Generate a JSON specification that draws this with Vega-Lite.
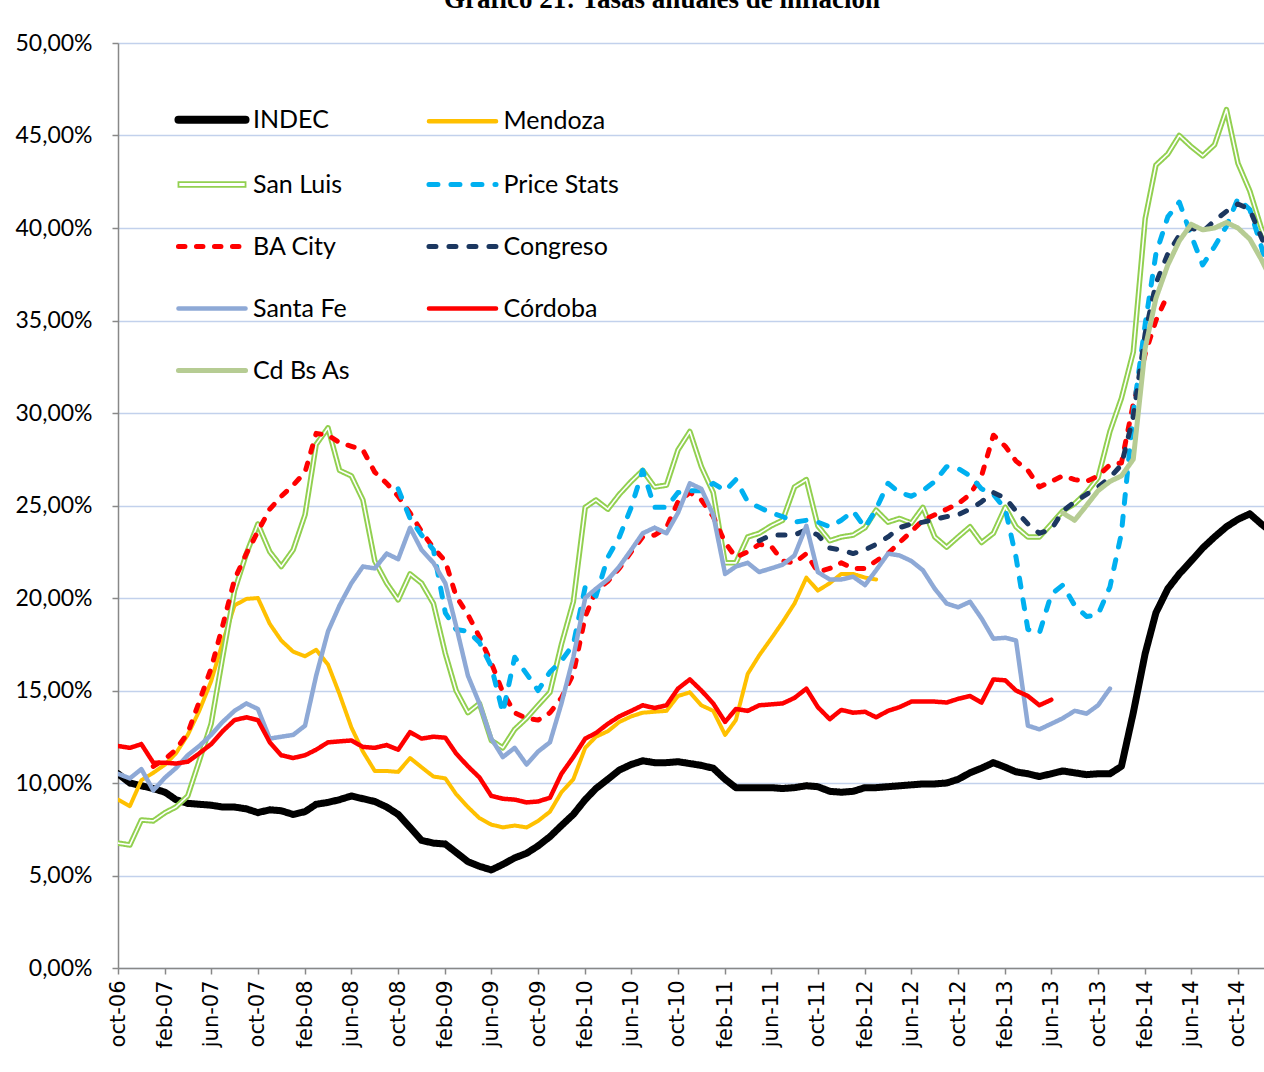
{
  "$schema": "https://vega.github.io/schema/vega-lite/v6.json",
  "autosize": {"type": "none"},
  "padding": {"left": 118, "top": 43, "right": 0, "bottom": 104},
  "width": 1146,
  "height": 925,
  "background": "white",
  "title": {"text": "Gráfico 21: Tasas anuales de inflación", "font": "Liberation Serif", "fontSize": 27, "fontWeight": "bold", "color": "#000000", "anchor": "middle", "frame": "group", "offset": 18, "dx": -29},
  "config": {"view": {"stroke": null}},
  "data": {"values": [
    {"d":"2006-10-01","INDEC":10.5,"Mendoza":9.1,"San Luis":6.75,"Santa Fe":10.5,"Córdoba":12.0},
    {"d":"2006-11-01","INDEC":10.0,"Mendoza":8.75,"San Luis":6.65,"Santa Fe":10.25,"Córdoba":11.9},
    {"d":"2006-12-01","INDEC":9.85,"Mendoza":10.15,"San Luis":8.0,"Santa Fe":10.75,"Córdoba":12.1},
    {"d":"2007-01-01","INDEC":9.7,"Mendoza":10.55,"San Luis":7.95,"BA City":10.9,"Santa Fe":9.6,"Córdoba":11.1},
    {"d":"2007-02-01","INDEC":9.5,"Mendoza":11.0,"San Luis":8.4,"BA City":11.3,"Santa Fe":10.3,"Córdoba":11.1},
    {"d":"2007-03-01","INDEC":9.1,"Mendoza":11.6,"San Luis":8.7,"BA City":11.8,"Santa Fe":10.8,"Córdoba":11.05},
    {"d":"2007-04-01","INDEC":8.9,"Mendoza":12.6,"San Luis":9.3,"BA City":12.7,"Santa Fe":11.5,"Córdoba":11.15},
    {"d":"2007-05-01","INDEC":8.85,"Mendoza":13.9,"San Luis":11.2,"BA City":14.4,"Santa Fe":12.0,"Córdoba":11.6},
    {"d":"2007-06-01","INDEC":8.8,"Mendoza":15.5,"San Luis":13.2,"BA City":16.2,"Santa Fe":12.6,"Córdoba":12.1},
    {"d":"2007-07-01","INDEC":8.7,"Mendoza":17.6,"San Luis":16.8,"BA City":18.5,"Santa Fe":13.3,"Córdoba":12.8},
    {"d":"2007-08-01","INDEC":8.7,"Mendoza":19.6,"San Luis":20.4,"BA City":21.0,"Santa Fe":13.9,"Córdoba":13.4},
    {"d":"2007-09-01","INDEC":8.6,"Mendoza":19.95,"San Luis":22.4,"BA City":22.4,"Santa Fe":14.3,"Córdoba":13.55},
    {"d":"2007-10-01","INDEC":8.4,"Mendoza":20.0,"San Luis":24.0,"BA City":23.6,"Santa Fe":14.0,"Córdoba":13.4},
    {"d":"2007-11-01","INDEC":8.55,"Mendoza":18.6,"San Luis":22.5,"BA City":24.8,"Santa Fe":12.4,"Córdoba":12.2},
    {"d":"2007-12-01","INDEC":8.5,"Mendoza":17.7,"San Luis":21.7,"BA City":25.5,"Santa Fe":12.5,"Córdoba":11.5},
    {"d":"2008-01-01","INDEC":8.3,"Mendoza":17.1,"San Luis":22.6,"BA City":26.1,"Santa Fe":12.6,"Córdoba":11.35},
    {"d":"2008-02-01","INDEC":8.45,"Mendoza":16.85,"San Luis":24.5,"BA City":26.8,"Santa Fe":13.1,"Córdoba":11.5},
    {"d":"2008-03-01","INDEC":8.85,"Mendoza":17.2,"San Luis":28.3,"BA City":28.9,"Santa Fe":15.8,"Córdoba":11.8},
    {"d":"2008-04-01","INDEC":8.95,"Mendoza":16.4,"San Luis":29.2,"BA City":28.8,"Santa Fe":18.2,"Córdoba":12.2},
    {"d":"2008-05-01","INDEC":9.1,"Mendoza":14.8,"San Luis":26.9,"BA City":28.4,"Santa Fe":19.6,"Córdoba":12.25},
    {"d":"2008-06-01","INDEC":9.3,"Mendoza":13.0,"San Luis":26.6,"BA City":28.2,"Santa Fe":20.8,"Córdoba":12.3},
    {"d":"2008-07-01","INDEC":9.15,"Mendoza":11.7,"San Luis":25.3,"BA City":28.0,"Santa Fe":21.7,"Córdoba":11.95},
    {"d":"2008-08-01","INDEC":9.0,"Mendoza":10.65,"San Luis":22.0,"BA City":26.8,"Santa Fe":21.6,"Córdoba":11.9},
    {"d":"2008-09-01","INDEC":8.7,"Mendoza":10.65,"San Luis":20.8,"BA City":26.2,"Santa Fe":22.4,"Córdoba":12.05},
    {"d":"2008-10-01","INDEC":8.3,"Mendoza":10.6,"San Luis":19.9,"Price Stats":25.9,"BA City":25.5,"Santa Fe":22.1,"Córdoba":11.8},
    {"d":"2008-11-01","INDEC":7.6,"Mendoza":11.35,"San Luis":21.3,"Price Stats":24.3,"BA City":24.6,"Santa Fe":23.8,"Córdoba":12.75},
    {"d":"2008-12-01","INDEC":6.9,"Mendoza":10.85,"San Luis":20.8,"Price Stats":23.4,"BA City":23.6,"Santa Fe":22.6,"Córdoba":12.4},
    {"d":"2009-01-01","INDEC":6.75,"Mendoza":10.35,"San Luis":19.7,"Price Stats":22.6,"BA City":22.7,"Santa Fe":21.9,"Córdoba":12.5},
    {"d":"2009-02-01","INDEC":6.7,"Mendoza":10.25,"San Luis":17.0,"Price Stats":19.2,"BA City":22.0,"Santa Fe":20.8,"Córdoba":12.45},
    {"d":"2009-03-01","INDEC":6.25,"Mendoza":9.4,"San Luis":15.0,"Price Stats":18.3,"BA City":20.1,"Santa Fe":18.5,"Córdoba":11.6},
    {"d":"2009-04-01","INDEC":5.75,"Mendoza":8.7,"San Luis":13.8,"Price Stats":18.2,"BA City":19.1,"Santa Fe":15.8,"Córdoba":10.9},
    {"d":"2009-05-01","INDEC":5.5,"Mendoza":8.1,"San Luis":14.3,"Price Stats":17.6,"BA City":17.9,"Santa Fe":14.3,"Córdoba":10.3},
    {"d":"2009-06-01","INDEC":5.3,"Mendoza":7.75,"San Luis":12.3,"Price Stats":16.3,"BA City":16.5,"Santa Fe":12.4,"Córdoba":9.3},
    {"d":"2009-07-01","INDEC":5.6,"Mendoza":7.6,"San Luis":11.9,"Price Stats":13.8,"BA City":14.9,"Santa Fe":11.4,"Córdoba":9.15},
    {"d":"2009-08-01","INDEC":5.95,"Mendoza":7.7,"San Luis":12.9,"Price Stats":16.8,"BA City":13.8,"Santa Fe":11.9,"Córdoba":9.1},
    {"d":"2009-09-01","INDEC":6.2,"Mendoza":7.6,"San Luis":13.5,"Price Stats":15.9,"BA City":13.5,"Santa Fe":11.0,"Córdoba":8.95},
    {"d":"2009-10-01","INDEC":6.6,"Mendoza":7.95,"San Luis":14.2,"Price Stats":15.0,"BA City":13.4,"Santa Fe":11.7,"Córdoba":9.0},
    {"d":"2009-11-01","INDEC":7.1,"Mendoza":8.45,"San Luis":14.9,"Price Stats":16.0,"BA City":13.8,"Santa Fe":12.2,"Córdoba":9.2},
    {"d":"2009-12-01","INDEC":7.7,"Mendoza":9.5,"San Luis":17.5,"Price Stats":16.6,"BA City":14.6,"Santa Fe":14.3,"Córdoba":10.5},
    {"d":"2010-01-01","INDEC":8.3,"Mendoza":10.2,"San Luis":19.8,"Price Stats":17.5,"BA City":15.9,"Santa Fe":16.8,"Córdoba":11.4},
    {"d":"2010-02-01","INDEC":9.1,"Mendoza":11.9,"San Luis":24.9,"Price Stats":20.6,"BA City":19.0,"Santa Fe":20.0,"Córdoba":12.4},
    {"d":"2010-03-01","INDEC":9.7,"Mendoza":12.5,"San Luis":25.3,"Price Stats":20.1,"BA City":20.4,"Santa Fe":20.5,"Córdoba":12.7},
    {"d":"2010-04-01","INDEC":10.2,"Mendoza":12.8,"San Luis":24.8,"Price Stats":22.2,"BA City":20.9,"Santa Fe":21.0,"Córdoba":13.2},
    {"d":"2010-05-01","INDEC":10.7,"Mendoza":13.3,"San Luis":25.6,"Price Stats":23.3,"BA City":21.6,"Santa Fe":21.7,"Córdoba":13.6},
    {"d":"2010-06-01","INDEC":11.0,"Mendoza":13.6,"San Luis":26.3,"Price Stats":24.9,"BA City":22.5,"Santa Fe":22.6,"Córdoba":13.9},
    {"d":"2010-07-01","INDEC":11.2,"Mendoza":13.8,"San Luis":26.9,"Price Stats":26.9,"BA City":23.3,"Santa Fe":23.5,"Córdoba":14.2},
    {"d":"2010-08-01","INDEC":11.1,"Mendoza":13.85,"San Luis":26.0,"Price Stats":24.9,"BA City":23.4,"Santa Fe":23.8,"Córdoba":14.05},
    {"d":"2010-09-01","INDEC":11.1,"Mendoza":13.9,"San Luis":26.1,"Price Stats":24.9,"BA City":23.8,"Santa Fe":23.5,"Córdoba":14.2},
    {"d":"2010-10-01","INDEC":11.15,"Mendoza":14.7,"San Luis":28.0,"Price Stats":25.7,"BA City":25.2,"Santa Fe":24.6,"Córdoba":15.1},
    {"d":"2010-11-01","INDEC":11.05,"Mendoza":14.9,"San Luis":29.0,"Price Stats":25.8,"BA City":25.7,"Santa Fe":26.2,"Córdoba":15.6},
    {"d":"2010-12-01","INDEC":10.95,"Mendoza":14.2,"San Luis":27.1,"Price Stats":25.8,"BA City":25.3,"Santa Fe":25.9,"Córdoba":15.0},
    {"d":"2011-01-01","INDEC":10.8,"Mendoza":13.9,"San Luis":25.7,"Price Stats":26.2,"BA City":24.4,"Santa Fe":24.5,"Córdoba":14.3},
    {"d":"2011-02-01","INDEC":10.2,"Mendoza":12.6,"San Luis":21.9,"Price Stats":25.8,"BA City":23.0,"Santa Fe":21.3,"Córdoba":13.3},
    {"d":"2011-03-01","INDEC":9.75,"Mendoza":13.4,"San Luis":21.9,"Price Stats":26.4,"BA City":22.2,"Santa Fe":21.7,"Córdoba":14.0},
    {"d":"2011-04-01","INDEC":9.75,"Mendoza":15.9,"San Luis":23.3,"Price Stats":25.2,"BA City":22.5,"Santa Fe":21.9,"Córdoba":13.9},
    {"d":"2011-05-01","INDEC":9.75,"Mendoza":16.9,"San Luis":23.5,"Price Stats":24.9,"BA City":22.9,"Congreso":23.1,"Santa Fe":21.4,"Córdoba":14.2},
    {"d":"2011-06-01","INDEC":9.75,"Mendoza":17.8,"San Luis":23.9,"Price Stats":24.6,"BA City":22.8,"Congreso":23.4,"Santa Fe":21.6,"Córdoba":14.25},
    {"d":"2011-07-01","INDEC":9.7,"Mendoza":18.7,"San Luis":24.2,"Price Stats":24.4,"BA City":22.0,"Congreso":23.4,"Santa Fe":21.8,"Córdoba":14.3},
    {"d":"2011-08-01","INDEC":9.75,"Mendoza":19.7,"San Luis":26.0,"Price Stats":24.1,"BA City":21.9,"Congreso":23.4,"Santa Fe":22.3,"Córdoba":14.6},
    {"d":"2011-09-01","INDEC":9.85,"Mendoza":21.1,"San Luis":26.4,"Price Stats":24.2,"BA City":22.4,"Congreso":23.7,"Santa Fe":23.9,"Córdoba":15.1},
    {"d":"2011-10-01","INDEC":9.8,"Mendoza":20.4,"San Luis":23.9,"Price Stats":24.1,"BA City":21.4,"Congreso":23.4,"Santa Fe":21.4,"Córdoba":14.1},
    {"d":"2011-11-01","INDEC":9.55,"Mendoza":20.8,"San Luis":23.1,"Price Stats":23.85,"BA City":21.6,"Congreso":22.7,"Santa Fe":21.0,"Córdoba":13.45},
    {"d":"2011-12-01","INDEC":9.5,"Mendoza":21.3,"San Luis":23.3,"Price Stats":24.2,"BA City":21.9,"Congreso":22.6,"Santa Fe":21.0,"Córdoba":13.95},
    {"d":"2012-01-01","INDEC":9.55,"Mendoza":21.3,"San Luis":23.4,"Price Stats":24.7,"BA City":21.6,"Congreso":22.4,"Santa Fe":21.15,"Córdoba":13.8},
    {"d":"2012-02-01","INDEC":9.75,"Mendoza":21.1,"San Luis":23.8,"Price Stats":23.8,"BA City":21.6,"Congreso":22.6,"Santa Fe":20.7,"Córdoba":13.85},
    {"d":"2012-03-01","INDEC":9.75,"Mendoza":21.0,"San Luis":24.75,"Price Stats":24.8,"BA City":22.0,"Congreso":22.9,"Santa Fe":21.5,"Córdoba":13.55},
    {"d":"2012-04-01","INDEC":9.8,"San Luis":24.1,"Price Stats":26.2,"BA City":22.4,"Congreso":23.3,"Santa Fe":22.4,"Córdoba":13.9},
    {"d":"2012-05-01","INDEC":9.85,"San Luis":24.3,"Price Stats":25.7,"BA City":23.0,"Congreso":23.8,"Santa Fe":22.3,"Córdoba":14.1},
    {"d":"2012-06-01","INDEC":9.9,"San Luis":24.05,"Price Stats":25.5,"BA City":23.6,"Congreso":24.0,"Santa Fe":22.0,"Córdoba":14.4},
    {"d":"2012-07-01","INDEC":9.95,"San Luis":24.9,"Price Stats":25.8,"BA City":24.2,"Congreso":24.1,"Santa Fe":21.5,"Córdoba":14.4},
    {"d":"2012-08-01","INDEC":9.95,"San Luis":23.3,"Price Stats":26.3,"BA City":24.5,"Congreso":24.25,"Santa Fe":20.5,"Córdoba":14.4},
    {"d":"2012-09-01","INDEC":10.0,"San Luis":22.75,"Price Stats":27.1,"BA City":24.8,"Congreso":24.4,"Santa Fe":19.7,"Córdoba":14.35},
    {"d":"2012-10-01","INDEC":10.2,"San Luis":23.3,"Price Stats":27.0,"BA City":25.1,"Congreso":24.5,"Santa Fe":19.5,"Córdoba":14.55},
    {"d":"2012-11-01","INDEC":10.55,"San Luis":23.85,"Price Stats":26.6,"BA City":25.6,"Congreso":24.8,"Santa Fe":19.8,"Córdoba":14.7},
    {"d":"2012-12-01","INDEC":10.8,"San Luis":23.0,"Price Stats":25.9,"BA City":26.6,"Congreso":25.2,"Santa Fe":18.9,"Córdoba":14.35},
    {"d":"2013-01-01","INDEC":11.1,"San Luis":23.5,"Price Stats":25.6,"BA City":28.8,"Congreso":25.7,"Santa Fe":17.8,"Córdoba":15.6},
    {"d":"2013-02-01","INDEC":10.85,"San Luis":24.9,"Price Stats":24.8,"BA City":28.2,"Congreso":25.4,"Santa Fe":17.85,"Córdoba":15.55},
    {"d":"2013-03-01","INDEC":10.6,"San Luis":23.85,"Price Stats":22.2,"BA City":27.4,"Congreso":24.7,"Santa Fe":17.7,"Córdoba":15.0},
    {"d":"2013-04-01","INDEC":10.5,"San Luis":23.3,"Price Stats":18.3,"BA City":26.9,"Congreso":24.0,"Santa Fe":13.1,"Córdoba":14.7},
    {"d":"2013-05-01","INDEC":10.35,"San Luis":23.3,"Price Stats":18.1,"BA City":26.0,"Congreso":23.5,"Santa Fe":12.9,"Córdoba":14.2},
    {"d":"2013-06-01","INDEC":10.5,"San Luis":24.0,"Price Stats":20.2,"BA City":26.3,"Congreso":23.7,"Santa Fe":13.2,"Córdoba":14.5},
    {"d":"2013-07-01","INDEC":10.65,"San Luis":24.7,"Price Stats":20.7,"BA City":26.6,"Congreso":24.7,"Santa Fe":13.5,"Cd Bs As":24.6},
    {"d":"2013-08-01","INDEC":10.55,"San Luis":25.1,"Price Stats":19.6,"BA City":26.4,"Congreso":25.2,"Santa Fe":13.9,"Cd Bs As":24.2},
    {"d":"2013-09-01","INDEC":10.45,"San Luis":25.7,"Price Stats":19.0,"BA City":26.3,"Congreso":25.6,"Santa Fe":13.75,"Cd Bs As":25.0},
    {"d":"2013-10-01","INDEC":10.5,"San Luis":26.5,"Price Stats":19.1,"BA City":26.6,"Congreso":26.0,"Santa Fe":14.2,"Cd Bs As":25.8},
    {"d":"2013-11-01","INDEC":10.5,"San Luis":29.0,"Price Stats":20.6,"BA City":27.2,"Congreso":26.5,"Santa Fe":15.1,"Cd Bs As":26.3},
    {"d":"2013-12-01","INDEC":10.9,"San Luis":30.8,"Price Stats":23.5,"BA City":27.3,"Congreso":27.2,"Cd Bs As":26.6},
    {"d":"2014-01-01","INDEC":13.8,"San Luis":33.3,"Price Stats":30.0,"BA City":30.5,"Congreso":29.8,"Cd Bs As":27.5},
    {"d":"2014-02-01","INDEC":17.0,"San Luis":40.5,"Price Stats":34.8,"BA City":33.2,"Congreso":34.3,"Cd Bs As":33.5},
    {"d":"2014-03-01","INDEC":19.2,"San Luis":43.4,"Price Stats":38.6,"BA City":35.0,"Congreso":37.0,"Cd Bs As":36.2},
    {"d":"2014-04-01","INDEC":20.5,"San Luis":44.0,"Price Stats":40.6,"BA City":36.4,"Congreso":38.6,"Cd Bs As":38.0},
    {"d":"2014-05-01","INDEC":21.3,"San Luis":45.0,"Price Stats":41.4,"Congreso":39.6,"Cd Bs As":39.3},
    {"d":"2014-06-01","INDEC":22.0,"San Luis":44.4,"Price Stats":39.6,"Congreso":40.0,"Cd Bs As":40.2},
    {"d":"2014-07-01","INDEC":22.7,"San Luis":43.9,"Price Stats":38.0,"Congreso":39.8,"Cd Bs As":39.9},
    {"d":"2014-08-01","INDEC":23.3,"San Luis":44.5,"Price Stats":39.0,"Congreso":40.4,"Cd Bs As":40.0},
    {"d":"2014-09-01","INDEC":23.85,"San Luis":46.4,"Price Stats":40.1,"Congreso":40.9,"Cd Bs As":40.3},
    {"d":"2014-10-01","INDEC":24.25,"San Luis":43.5,"Price Stats":41.6,"Congreso":41.3,"Cd Bs As":40.0},
    {"d":"2014-11-01","INDEC":24.55,"San Luis":42.0,"Price Stats":41.0,"Congreso":41.0,"Cd Bs As":39.4},
    {"d":"2014-12-01","INDEC":24.0,"San Luis":40.0,"Price Stats":39.0,"Congreso":39.5,"Cd Bs As":38.3},
    {"d":"2015-01-01","INDEC":23.5,"San Luis":38.5,"Price Stats":36.5,"Congreso":38.0,"Cd Bs As":37.0}
  ]},
  "transform": [
    {"fold": ["INDEC","Mendoza","San Luis","Price Stats","BA City","Congreso","Santa Fe","Córdoba","Cd Bs As"], "as": ["s","v"]},
    {"filter": "isValid(datum.v)"}
  ],
  "encoding": {
    "x": {"field": "d", "type": "temporal",
      "scale": {"type": "utc", "domain": [{"year": 2006, "month": 10, "date": 1, "utc": true}, {"year": 2014, "month": 12, "date": 8, "utc": true}]},
      "axis": {"title": null, "grid": false,
        "values": [
          {"year":2006,"month":10,"date":1,"utc":true},{"year":2007,"month":2,"date":1,"utc":true},{"year":2007,"month":6,"date":1,"utc":true},
          {"year":2007,"month":10,"date":1,"utc":true},{"year":2008,"month":2,"date":1,"utc":true},{"year":2008,"month":6,"date":1,"utc":true},
          {"year":2008,"month":10,"date":1,"utc":true},{"year":2009,"month":2,"date":1,"utc":true},{"year":2009,"month":6,"date":1,"utc":true},
          {"year":2009,"month":10,"date":1,"utc":true},{"year":2010,"month":2,"date":1,"utc":true},{"year":2010,"month":6,"date":1,"utc":true},
          {"year":2010,"month":10,"date":1,"utc":true},{"year":2011,"month":2,"date":1,"utc":true},{"year":2011,"month":6,"date":1,"utc":true},
          {"year":2011,"month":10,"date":1,"utc":true},{"year":2012,"month":2,"date":1,"utc":true},{"year":2012,"month":6,"date":1,"utc":true},
          {"year":2012,"month":10,"date":1,"utc":true},{"year":2013,"month":2,"date":1,"utc":true},{"year":2013,"month":6,"date":1,"utc":true},
          {"year":2013,"month":10,"date":1,"utc":true},{"year":2014,"month":2,"date":1,"utc":true},{"year":2014,"month":6,"date":1,"utc":true},
          {"year":2014,"month":10,"date":1,"utc":true}
        ],
        "labelExpr": "lower(utcFormat(datum.value, '%b-%y'))",
        "labelAngle": 270, "labelAlign": "right", "labelBaseline": "middle",
        "labelFont": "DejaVu Sans", "labelFontSize": 21, "labelColor": "#000000", "labelPadding": 6,
        "labelOverlap": false, "labelFlush": false,
        "tickSize": 6, "tickColor": "#888888", "tickWidth": 1.5,
        "domainColor": "#888888", "domainWidth": 1.5}
    },
    "y": {"field": "v", "type": "quantitative",
      "scale": {"domain": [0, 50], "nice": false},
      "axis": {"title": null, "values": [0,5,10,15,20,25,30,35,40,45,50],
        "labelExpr": "replace(format(datum.value, '.2f'), '.', ',') + '%'",
        "labelFont": "Lato", "labelFontSize": 23, "labelColor": "#000000", "labelPadding": 20,
        "grid": true, "gridColor": "#C2D1EC", "gridWidth": 1.5,
        "tickSize": 6, "tickColor": "#888888", "tickWidth": 1.5,
        "domainColor": "#888888", "domainWidth": 1.5}
    },
    "color": {"field": "s", "type": "nominal",
      "scale": {"domain": ["INDEC","San Luis","BA City","Santa Fe","Cd Bs As","Mendoza","Price Stats","Congreso","Córdoba"],
                "range": ["#000000","#92D050","#FF0000","#8EA9D6","#B6CC93","#FFC000","#00B0F0","#1C3760","#FF0000"]},
      "legend": {"title": null, "orient": "none", "legendX": 81.5, "legendY": 64, "columns": 2,
        "symbolType": "stroke", "symbolSize": 4500, "labelFont": "Lato", "labelFontSize": 25, "labelColor": "#000000",
        "labelOffset": 28.5, "rowPadding": 36, "columnPadding": 66.5,
        "encode": {"symbols": {"update": {
          "shape": {"signal": "datum.value === 'San Luis' ? 'M-1,-0.07H1V0.07H-1Z' : 'stroke'"},
          "fill": {"signal": "datum.value === 'San Luis' ? '#ffffff' : 'transparent'"},
          "strokeWidth": {"signal": "datum.value === 'INDEC' ? 8 : datum.value === 'San Luis' ? 1.8 : (datum.value === 'Mendoza' || datum.value === 'Córdoba' || datum.value === 'Santa Fe') ? 4.5 : 5"},
          "strokeCap": {"value": "round"}}}}}
    },
    "strokeDash": {"field": "s", "type": "nominal",
      "scale": {"domain": ["INDEC","San Luis","BA City","Santa Fe","Cd Bs As","Mendoza","Price Stats","Congreso","Córdoba"],
                "range": [[1,0],[1,0],[6.5,11.5],[1,0],[1,0],[1,0],[9,13],[7,13],[1,0]]},
      "legend": {"title": null}
    }
  },
  "layer": [
    {"transform": [{"filter": {"field": "s", "equal": "INDEC"}}],
     "mark": {"type": "line", "strokeWidth": 7, "strokeCap": "round", "strokeJoin": "round", "clip": true}},
    {"transform": [{"filter": {"field": "s", "equal": "Mendoza"}}],
     "mark": {"type": "line", "strokeWidth": 4, "strokeCap": "round", "strokeJoin": "round", "clip": true}},
    {"transform": [{"filter": {"field": "s", "equal": "San Luis"}}],
     "mark": {"type": "line", "strokeWidth": 5.5, "strokeCap": "round", "strokeJoin": "round", "clip": true}},
    {"transform": [{"filter": {"field": "s", "equal": "San Luis"}}],
     "mark": {"type": "line", "strokeWidth": 1.6, "strokeCap": "round", "strokeJoin": "round", "clip": true},
     "encoding": {"color": {"value": "#FFFFFF"}, "strokeDash": {"value": [1,0]}}},
    {"transform": [{"filter": {"field": "s", "oneOf": ["Price Stats","BA City","Congreso"]}}],
     "mark": {"type": "line", "strokeWidth": 5, "strokeCap": "round", "strokeJoin": "round", "clip": true}},
    {"transform": [{"filter": {"field": "s", "oneOf": ["Santa Fe","Córdoba"]}}],
     "mark": {"type": "line", "strokeWidth": 4.5, "strokeCap": "round", "strokeJoin": "round", "clip": true}},
    {"transform": [{"filter": {"field": "s", "equal": "Cd Bs As"}}],
     "mark": {"type": "line", "strokeWidth": 5, "strokeCap": "round", "strokeJoin": "round", "clip": true}}
  ]
}
